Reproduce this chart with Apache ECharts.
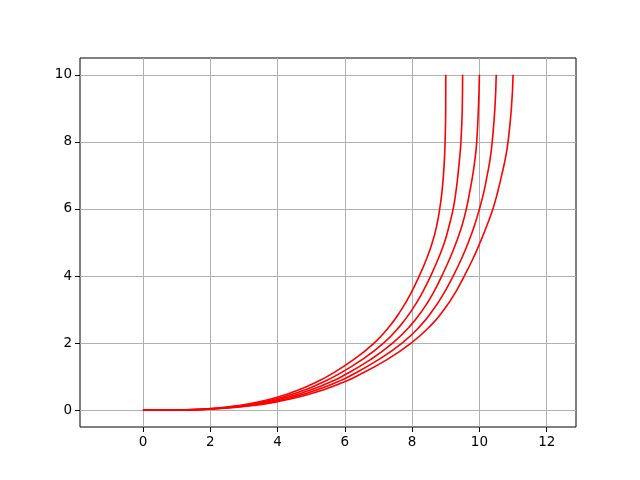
<!DOCTYPE html>
<html>
<head>
<meta charset="utf-8">
<script src="https://cdn.jsdelivr.net/npm/echarts@6/dist/echarts.min.js"></script>
<style>
html, body { margin: 0; padding: 0; background: #fff; }
#chart { width: 640px; height: 480px; }
</style>
</head>
<body>
<div id="chart"></div>
<script>
var yLevels = [0, 0.01, 0.05, 0.15, 0.25, 0.4, 0.55, 0.7, 0.85, 1, 1.5, 2, 2.5, 3, 3.5, 4, 4.5, 5, 5.5, 6, 6.5, 7, 7.5, 8, 9, 10];

var curve1 = [0, 1.18, 2.02, 2.91, 3.45, 4.03, 4.48, 4.86, 5.18, 5.47, 6.25, 6.87, 7.33, 7.68, 7.97, 8.21, 8.425, 8.6, 8.73, 8.82, 8.885, 8.93, 8.96, 8.98, 8.998, 9.0];
var curve2 = [0, 1.22, 2.10, 3.02, 3.58, 4.19, 4.66, 5.05, 5.38, 5.68, 6.50, 7.15, 7.63, 8.0, 8.30, 8.55, 8.77, 8.96, 9.10, 9.22, 9.30, 9.36, 9.41, 9.45, 9.49, 9.5];
var curve3 = [0, 1.27, 2.18, 3.14, 3.72, 4.35, 4.83, 5.24, 5.59, 5.9, 6.75, 7.42, 7.93, 8.32, 8.63, 8.88, 9.11, 9.31, 9.48, 9.61, 9.71, 9.8, 9.87, 9.92, 9.97, 10.0];
var curve4 = [0, 1.32, 2.25, 3.25, 3.85, 4.50, 5.0, 5.42, 5.79, 6.11, 6.99, 7.70, 8.23, 8.63, 8.95, 9.22, 9.46, 9.67, 9.85, 10.0, 10.13, 10.23, 10.32, 10.38, 10.46, 10.5];
var curve5 = [0, 1.36, 2.33, 3.36, 3.98, 4.66, 5.18, 5.61, 5.99, 6.32, 7.24, 7.97, 8.53, 8.95, 9.28, 9.55, 9.80, 10.02, 10.22, 10.40, 10.54, 10.66, 10.77, 10.85, 10.95, 11.0];

var xTicks = [0, 2, 4, 6, 8, 10, 12];
var yTicks = [0, 2, 4, 6, 8, 10];

function pairs(xs) {
  return xs.map(function (x, i) { return [x, yLevels[i]]; });
}

var chart = echarts.init(document.getElementById('chart'));

var series = [curve1, curve2, curve3, curve4, curve5].map(function (c) {
  return {
    type: 'line',
    data: pairs(c),
    showSymbol: false,
    smooth: 0.5,
    lineStyle: { color: '#ff0000', width: 1.6 },
    z: 3
  };
});

var font = { color: '#000', fontSize: 13.5, fontFamily: 'DejaVu Sans' };

chart.setOption({
  animation: false,
  grid: {
    left: 80, right: 64, top: 58, bottom: 53,
    show: true, borderColor: '#000', borderWidth: 1
  },
  xAxis: {
    type: 'value',
    min: -1.87, max: 12.87,
    axisLine: { show: false, onZero: false },
    axisTick: { show: true, customValues: xTicks, length: 5, lineStyle: { color: '#000' } },
    axisLabel: Object.assign({ customValues: xTicks, margin: 8 }, font),
    splitLine: { show: true, lineStyle: { color: '#b0b0b0', width: 1 } }
  },
  yAxis: {
    type: 'value',
    min: -0.5, max: 10.5,
    axisLine: { show: false, onZero: false },
    axisTick: { show: true, customValues: yTicks, length: 5, lineStyle: { color: '#000' } },
    axisLabel: Object.assign({ customValues: yTicks, margin: 8 }, font),
    splitLine: { show: true, lineStyle: { color: '#b0b0b0', width: 1 } }
  },
  series: series
});
</script>
</body>
</html>
